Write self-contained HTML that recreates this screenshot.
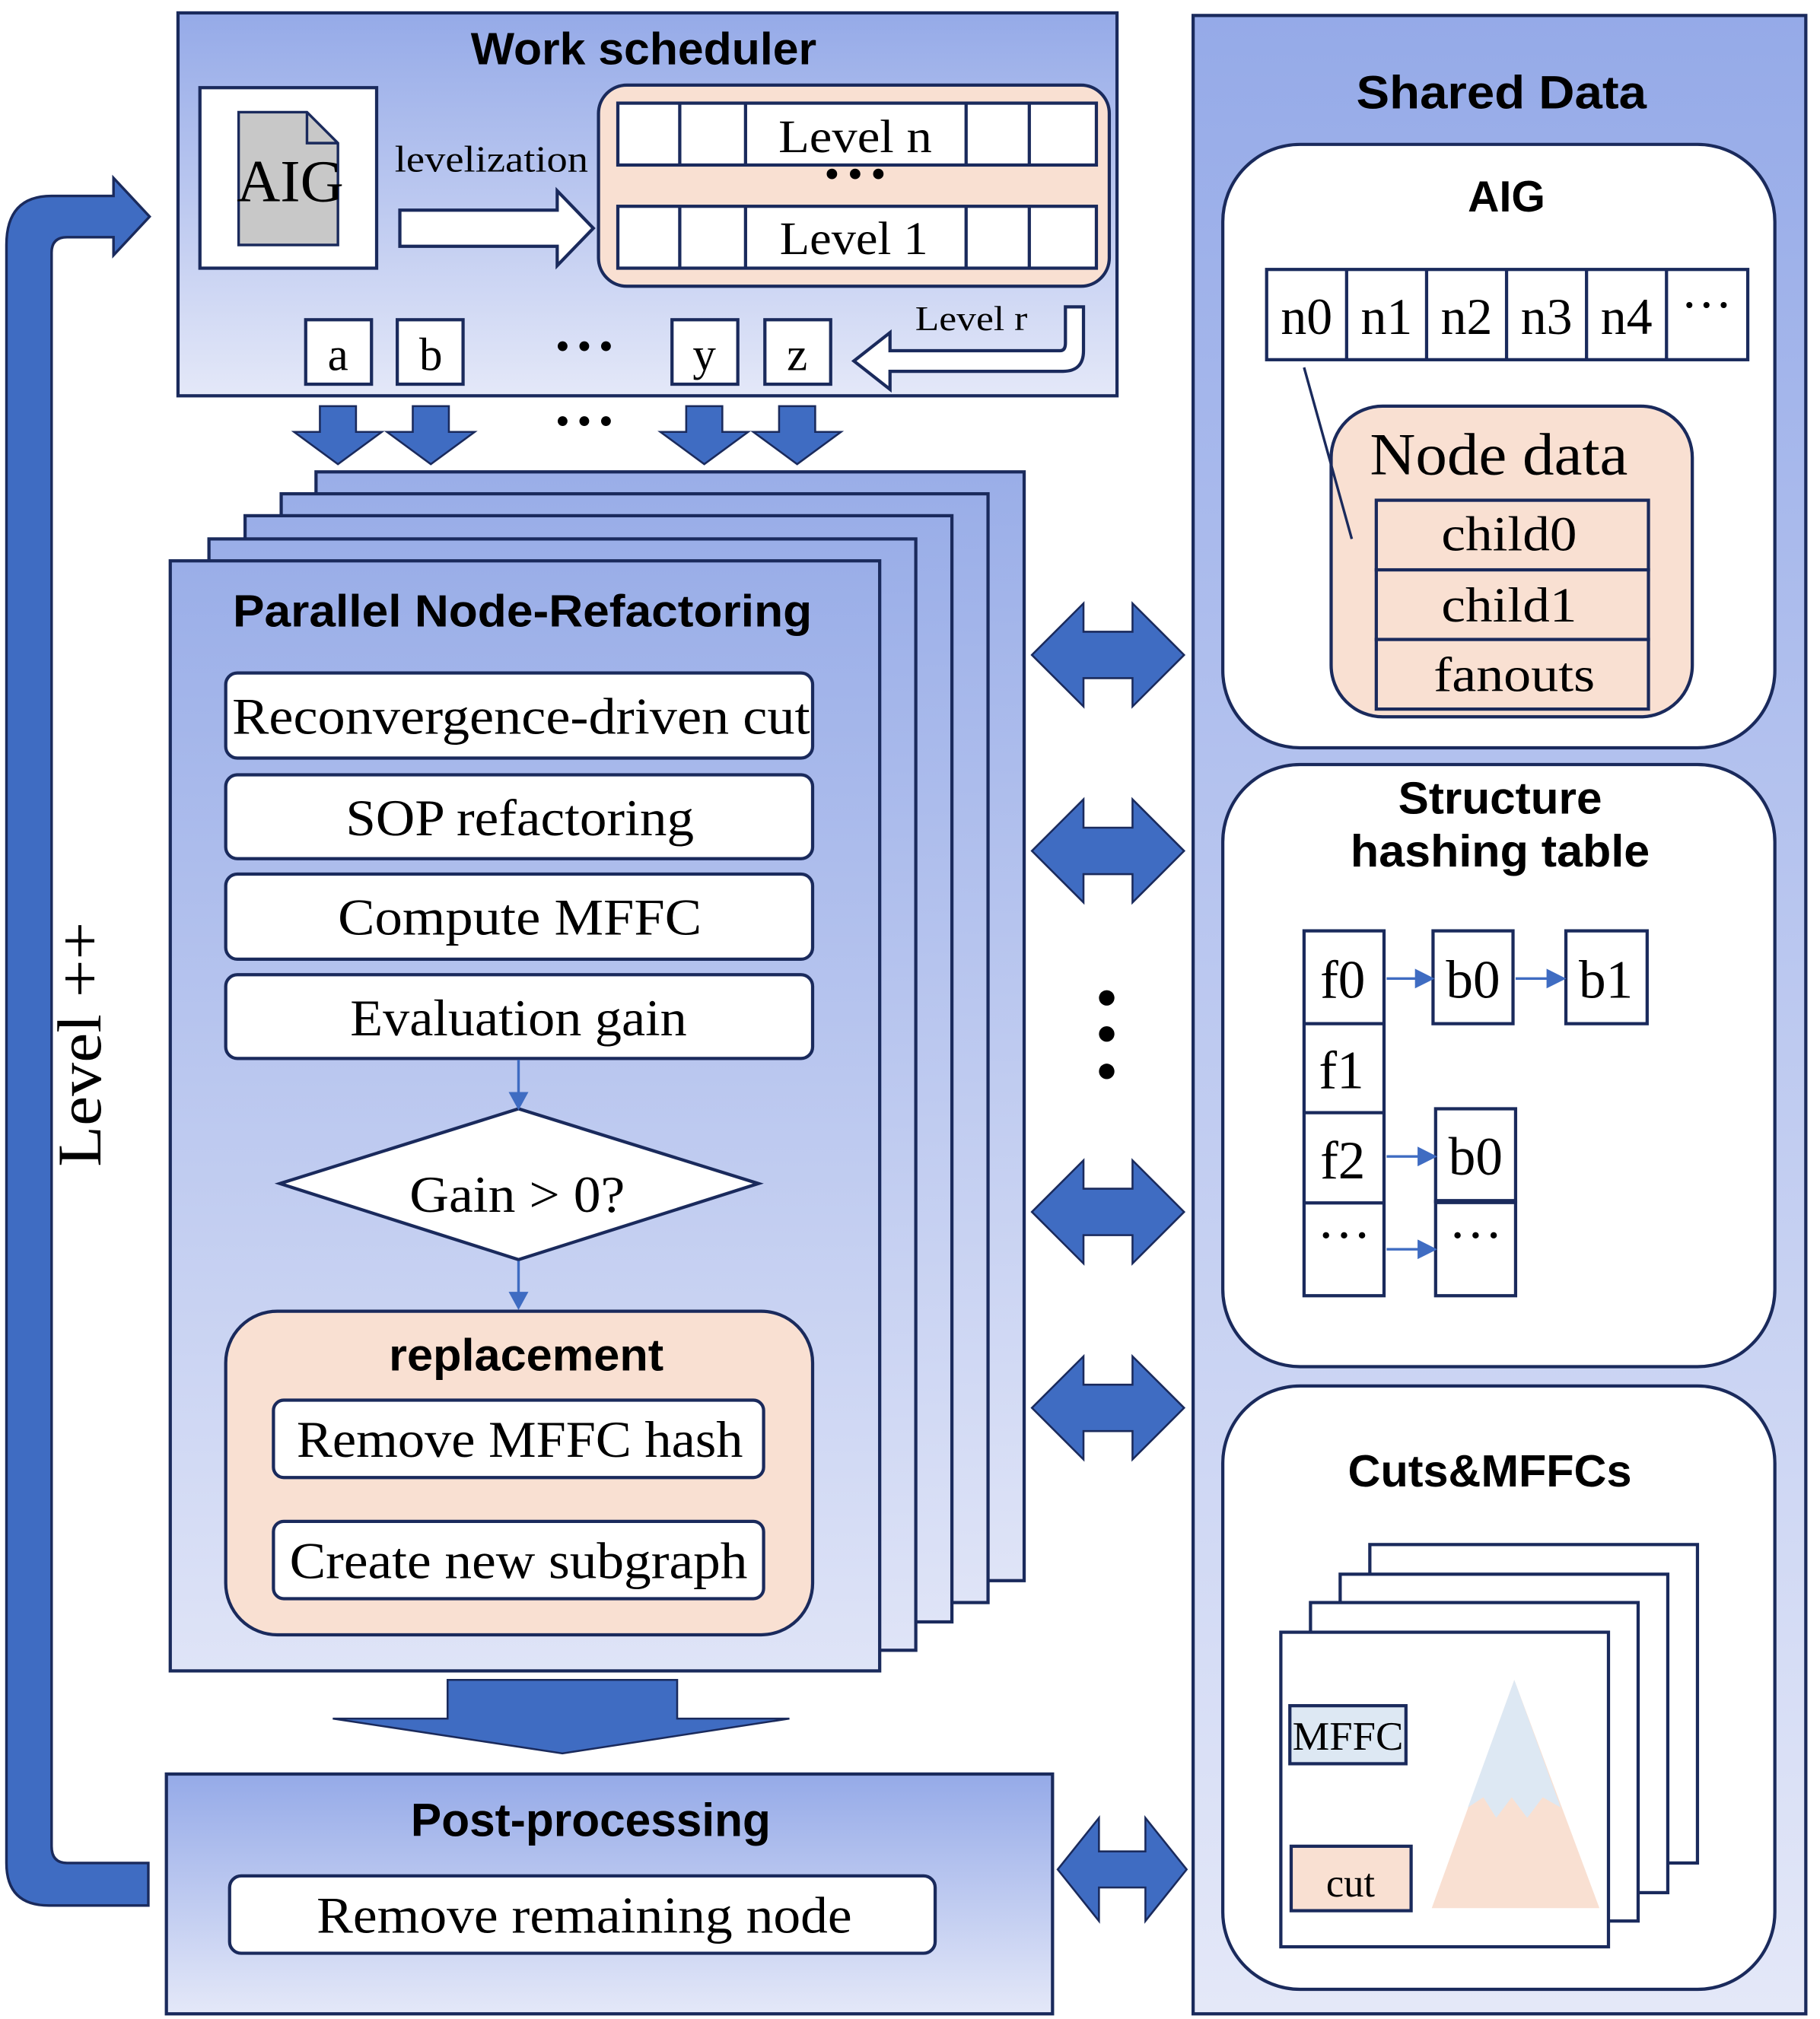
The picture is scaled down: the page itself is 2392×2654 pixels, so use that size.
<!DOCTYPE html>
<html><head><meta charset="utf-8"><style>
html,body{margin:0;padding:0;background:#fff;}
svg{display:block;}
.t{font-family:"Liberation Sans",sans-serif;font-weight:bold;fill:#000;text-anchor:middle;}
.s{font-family:"Liberation Serif",serif;fill:#000;text-anchor:middle;}
</style></head><body>
<svg width="2392" height="2654" viewBox="0 0 1411 1566" preserveAspectRatio="none" xmlns="http://www.w3.org/2000/svg">
<defs>
<linearGradient id="g" x1="0" y1="0" x2="0" y2="1"><stop offset="0" stop-color="#95aae8"/><stop offset="1" stop-color="#e4e8f8"/></linearGradient>
<linearGradient id="g2" x1="0" y1="0" x2="0" y2="1"><stop offset="0" stop-color="#9aaee8"/><stop offset="1" stop-color="#dfe4f7"/></linearGradient>
</defs>
<g stroke="#1a2a5c" stroke-width="2.5">
<rect x="138" y="10" width="728" height="297" fill="url(#g)"/>
<rect x="155" y="68" width="137" height="140" fill="#fff"/>
<path d="M185,87 H238 L262,111 V190 H185 Z" fill="#c8c8c8" stroke="#1a2a5c" stroke-width="2"/>
<path d="M238,87 V111 H262" fill="none" stroke-width="2"/>
<path d="M310,163 H432 V148 L460,177 L432,206 V191 H310 Z" fill="#fff"/>
<rect x="464" y="66" width="396" height="156" rx="22" fill="#f9e0d2"/>
<rect x="479" y="80" width="371" height="48" fill="#fff"/>
<rect x="479" y="160" width="371" height="48" fill="#fff"/>
<path d="M527,80V128M578,80V128M749,80V128M798,80V128M527,160V208M578,160V208M749,160V208M798,160V208" fill="none"/>
<path d="M826,238 H840 V272 Q840,288 824,288 H690 V302 L662,280 L690,258 V272 H822 Q826,272 826,266 Z" fill="#fff"/>
<rect x="237" y="248" width="51" height="50" fill="#fff"/>
<rect x="308" y="248" width="51" height="50" fill="#fff"/>
<rect x="521" y="248" width="51" height="50" fill="#fff"/>
<rect x="593" y="248" width="51" height="50" fill="#fff"/>
</g>
<g fill="#3f6cc2" stroke="#1a2a5c" stroke-width="1.5">
<path d="M248,315H276V335H296L262,360L228,335H248Z"/>
<path d="M320,315H348V335H368L334,360L300,335H320Z"/>
<path d="M532,315H560V335H580L546,360L512,335H532Z"/>
<path d="M604,315H632V335H652L618,360L584,335H604Z"/>
</g>
<text x="499" y="50" class="t" font-size="35" textLength="268" lengthAdjust="spacingAndGlyphs">Work scheduler</text>
<text x="225" y="156" class="s" font-size="46" textLength="83" lengthAdjust="spacingAndGlyphs">AIG</text>
<text x="381" y="133" class="s" font-size="29" textLength="150" lengthAdjust="spacingAndGlyphs">levelization</text>
<text x="663" y="118" class="s" font-size="36" textLength="119" lengthAdjust="spacingAndGlyphs">Level n</text>
<text x="662" y="197" class="s" font-size="36" textLength="115" lengthAdjust="spacingAndGlyphs">Level 1</text>
<text x="663" y="145" class="s" font-size="30" font-weight="bold">• • •</text>
<text x="753" y="256" class="s" font-size="27" textLength="87" lengthAdjust="spacingAndGlyphs">Level r</text>
<text x="262" y="287" class="s" font-size="36">a</text>
<text x="334" y="287" class="s" font-size="36">b</text>
<text x="546" y="287" class="s" font-size="36">y</text>
<text x="618" y="287" class="s" font-size="36">z</text>
<text x="453" y="278" class="s" font-size="28" font-weight="bold">• • •</text>
<text x="453" y="336" class="s" font-size="28" font-weight="bold">• • •</text>

<g stroke="#1a2a5c" stroke-width="2.5">
<rect x="245" y="366" width="549" height="860" fill="url(#g2)"/>
<rect x="218" y="383" width="548" height="860" fill="url(#g2)"/>
<rect x="190" y="400" width="548" height="858" fill="url(#g2)"/>
<rect x="162" y="418" width="548" height="862" fill="url(#g2)"/>
<rect x="132" y="435" width="550" height="861" fill="url(#g2)"/>
<rect x="175" y="522" width="455" height="66" rx="9" fill="#fff"/>
<rect x="175" y="601" width="455" height="65" rx="9" fill="#fff"/>
<rect x="175" y="678" width="455" height="66" rx="9" fill="#fff"/>
<rect x="175" y="756" width="455" height="65" rx="9" fill="#fff"/>
<path d="M217,918 L402,860 L588,918 L402,977 Z" fill="#fff"/>
<rect x="175" y="1017" width="455" height="251" rx="40" fill="#f9e0d2"/>
<rect x="212" y="1086" width="380" height="60" rx="8" fill="#fff"/>
<rect x="212" y="1180" width="380" height="60" rx="8" fill="#fff"/>
</g>
<g stroke="#3f6cc2" stroke-width="2" fill="#3f6cc2">
<path d="M402,822V850" fill="none"/><path d="M396,848H408L402,859Z"/>
<path d="M402,978V1005" fill="none"/><path d="M396,1003H408L402,1014Z"/>
</g>
<text x="405" y="486" class="t" font-size="35" textLength="449" lengthAdjust="spacingAndGlyphs">Parallel Node-Refactoring</text>
<text x="404" y="569" class="s" font-size="40" textLength="448" lengthAdjust="spacingAndGlyphs">Reconvergence-driven cut</text>
<text x="403" y="648" class="s" font-size="40" textLength="270" lengthAdjust="spacingAndGlyphs">SOP refactoring</text>
<text x="403" y="725" class="s" font-size="40" textLength="282" lengthAdjust="spacingAndGlyphs">Compute MFFC</text>
<text x="402" y="803" class="s" font-size="40" textLength="261" lengthAdjust="spacingAndGlyphs">Evaluation gain</text>
<text x="401" y="940" class="s" font-size="40" textLength="167" lengthAdjust="spacingAndGlyphs">Gain &gt; 0?</text>
<text x="408" y="1063" class="t" font-size="35" textLength="213" lengthAdjust="spacingAndGlyphs">replacement</text>
<text x="403" y="1130" class="s" font-size="40" textLength="346" lengthAdjust="spacingAndGlyphs">Remove MFFC hash</text>
<text x="402" y="1224" class="s" font-size="40" textLength="355" lengthAdjust="spacingAndGlyphs">Create new subgraph</text>

<path d="M347,1303H525V1333H612L436,1360L258,1333H347Z" fill="#3f6cc2" stroke="#1a2a5c" stroke-width="1.5"/>

<rect x="129" y="1376" width="687" height="186" fill="url(#g)" stroke="#1a2a5c" stroke-width="2.5"/>
<rect x="178" y="1455" width="547" height="60" rx="9" fill="#fff" stroke="#1a2a5c" stroke-width="2.5"/>
<text x="458" y="1424" class="t" font-size="36" textLength="279" lengthAdjust="spacingAndGlyphs">Post-processing</text>
<text x="453" y="1499" class="s" font-size="40" textLength="415" lengthAdjust="spacingAndGlyphs">Remove remaining node</text>

<path d="M115,1445 V1478 H38 Q5,1478 5,1445 V190 Q5,152 40,152 H88 V138 L116,168 L88,198 V184 H52 Q40,184 40,196 V1432 Q40,1445 52,1445 Z" fill="#3f6cc2" stroke="#1a2a5c" stroke-width="2"/>
<text transform="translate(78,810) rotate(-90)" class="s" font-size="48" textLength="190" lengthAdjust="spacingAndGlyphs">Level ++</text>

<g fill="#3f6cc2" stroke="#1a2a5c" stroke-width="1.5">
<path d="M800,508 L840,468 V490 H878 V468 L918,508 L878,548 V526 H840 V548 Z"/>
<path d="M800,660 L840,620 V642 H878 V620 L918,660 L878,700 V678 H840 V700 Z"/>
<path d="M800,940 L840,900 V922 H878 V900 L918,940 L878,980 V958 H840 V980 Z"/>
<path d="M800,1092 L840,1052 V1074 H878 V1052 L918,1092 L878,1132 V1110 H840 V1132 Z"/>
<path d="M820,1450 L852,1410 V1436 H888 V1410 L920,1450 L888,1490 V1464 H852 V1490 Z"/>
</g>
<circle cx="858" cy="774" r="6" fill="#000"/><circle cx="858" cy="802" r="6" fill="#000"/><circle cx="858" cy="831" r="6" fill="#000"/>

<g stroke="#1a2a5c" stroke-width="2.5">
<rect x="925" y="12" width="475" height="1550" fill="url(#g)"/>
<rect x="948" y="112" width="428" height="468" rx="60" fill="#fff"/>
<rect x="982" y="209" width="373" height="70" fill="#fff"/>
<path d="M1044,209V279M1106,209V279M1168,209V279M1230,209V279M1292,209V279" fill="none"/>
<rect x="1032" y="315" width="280" height="241" rx="40" fill="#f9e0d2"/>
<rect x="1067" y="388" width="211" height="54" fill="#f9e0d2"/>
<rect x="1067" y="442" width="211" height="54" fill="#f9e0d2"/>
<rect x="1067" y="496" width="211" height="54" fill="#f9e0d2"/>
<path d="M1011,285 L1048,418" fill="none" stroke-width="2"/>
<rect x="948" y="593" width="428" height="467" rx="60" fill="#fff"/>
<rect x="1011" y="722" width="62" height="283" fill="#fff"/>
<path d="M1011,794H1073M1011,863H1073M1011,933H1073" fill="none"/>
<rect x="1111" y="722" width="62" height="72" fill="#fff"/>
<rect x="1214" y="722" width="63" height="72" fill="#fff"/>
<rect x="1113" y="860" width="62" height="72" fill="#fff"/>
<rect x="1113" y="932" width="62" height="73" fill="#fff"/>
<path d="M1113,932H1175" stroke-width="4"/>
<rect x="948" y="1075" width="428" height="468" rx="60" fill="#fff"/>
<rect x="1062" y="1198" width="254" height="247" fill="#fff"/>
<rect x="1039" y="1221" width="254" height="247" fill="#fff"/>
<rect x="1016" y="1243" width="254" height="247" fill="#fff"/>
<rect x="993" y="1266" width="254" height="244" fill="#fff"/>
</g>
<path d="M1110,1480 L1174,1303 L1240,1480 Z" fill="#f9e0d2"/>
<path d="M1174,1303 L1138,1402 L1150,1394 L1160,1410 L1172,1394 L1184,1410 L1196,1394 L1210,1402 Z" fill="#dde8f3"/>
<rect x="1000" y="1323" width="90" height="45" fill="#dde8f3" stroke="#1a2a5c" stroke-width="2.5"/>
<rect x="1001" y="1432" width="93" height="50" fill="#f9e0d2" stroke="#1a2a5c" stroke-width="2.5"/>
<g stroke="#3f6cc2" stroke-width="2" fill="#3f6cc2">
<path d="M1075,759H1100" fill="none"/><path d="M1098,753L1110,759L1098,765Z"/>
<path d="M1175,759H1202" fill="none"/><path d="M1200,753L1212,759L1200,765Z"/>
<path d="M1075,897H1102" fill="none"/><path d="M1100,891L1112,897L1100,903Z"/>
<path d="M1075,969H1102" fill="none"/><path d="M1100,963L1112,969L1100,975Z"/>
</g>
<text x="1164" y="84" class="t" font-size="36" textLength="225" lengthAdjust="spacingAndGlyphs">Shared Data</text>
<text x="1168" y="164" class="t" font-size="34" textLength="60" lengthAdjust="spacingAndGlyphs">AIG</text>
<g class="s" font-size="40">
<text x="1013" y="259">n0</text><text x="1075" y="259">n1</text><text x="1137" y="259">n2</text><text x="1199" y="259">n3</text><text x="1261" y="259">n4</text><text x="1323" y="250">···</text>
</g>
<text x="1162" y="368" class="s" font-size="46" textLength="200" lengthAdjust="spacingAndGlyphs">Node data</text>
<text x="1170" y="427" class="s" font-size="38" textLength="105" lengthAdjust="spacingAndGlyphs">child0</text>
<text x="1170" y="482" class="s" font-size="38" textLength="105" lengthAdjust="spacingAndGlyphs">child1</text>
<text x="1174" y="536" class="s" font-size="38" textLength="125" lengthAdjust="spacingAndGlyphs">fanouts</text>
<text x="1163" y="631" class="t" font-size="35" textLength="158" lengthAdjust="spacingAndGlyphs">Structure</text>
<text x="1163" y="672" class="t" font-size="35" textLength="232" lengthAdjust="spacingAndGlyphs">hashing table</text>
<g class="s" font-size="42">
<text x="1041" y="774">f0</text><text x="1040" y="844">f1</text><text x="1041" y="914">f2</text><text x="1042" y="972">···</text>
<text x="1142" y="774">b0</text><text x="1245" y="774">b1</text><text x="1144" y="911">b0</text><text x="1144" y="972">···</text>
</g>
<text x="1155" y="1153" class="t" font-size="35" textLength="220" lengthAdjust="spacingAndGlyphs">Cuts&amp;MFFCs</text>
<text x="1045" y="1357" class="s" font-size="31" textLength="86" lengthAdjust="spacingAndGlyphs">MFFC</text>
<text x="1047" y="1471" class="s" font-size="31">cut</text>
</svg>
</body></html>
